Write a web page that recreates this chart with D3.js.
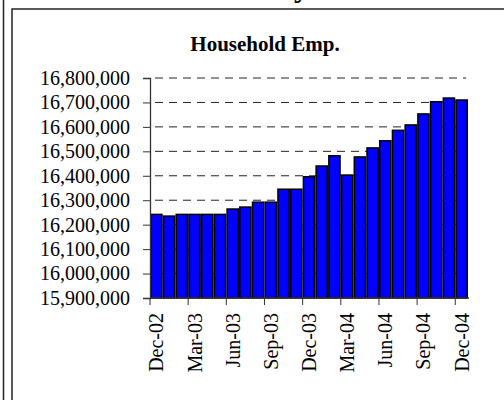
<!DOCTYPE html>
<html lang="en">
  <head>
    <style>
      body { margin: 0; background: #fff; }
      svg text { font-family: "Liberation Serif", "Times New Roman", serif; }
      .bar { fill: #0000ff; stroke: #000; stroke-width: 1.5; }
      .grid line { stroke: #222; stroke-dasharray: 8, 6; }
    </style>
    <script src="https://d3js.org/d3.v7.min.js"></script>
  </head>
  <body>
    <svg width="504" height="400"></svg>
    <script>
      const months = [
        "Dec-02", "Jan-03", "Feb-03", "Mar-03", "Apr-03", "May-03", "Jun-03",
        "Jul-03", "Aug-03", "Sep-03", "Oct-03", "Nov-03", "Dec-03",
        "Jan-04", "Feb-04", "Mar-04", "Apr-04", "May-04", "Jun-04",
        "Jul-04", "Aug-04", "Sep-04", "Oct-04", "Nov-04", "Dec-04"
      ];
      const employment = [
        16242000, 16235000, 16242000, 16242000, 16242000, 16242000, 16264000,
        16272000, 16292000, 16292000, 16345000, 16345000, 16396000,
        16440000, 16482000, 16403000, 16477000, 16514000, 16543000,
        16586000, 16608000, 16653000, 16703000, 16718000, 16710000
      ];
      const yTicks = [
        15900000, 16000000, 16100000, 16200000, 16300000,
        16400000, 16500000, 16600000, 16700000, 16800000
      ];
      const xLabels = ["Dec-02", "Mar-03", "Jun-03", "Sep-03", "Dec-03",
        "Mar-04", "Jun-04", "Sep-04", "Dec-04"];

      const svg = d3.select("svg");
      const plotLeft = 150, plotRight = 468, plotTop = 78, plotBottom = 298;

      // frame pieces
      svg.append("line").attr("x1", 3.5).attr("x2", 3.5).attr("y1", 0).attr("y2", 400)
        .attr("stroke", "#222").attr("stroke-width", 1.5);
      svg.append("line").attr("x1", 12).attr("x2", 12).attr("y1", 8.5).attr("y2", 400)
        .attr("stroke", "#222").attr("stroke-width", 1.5);
      svg.append("line").attr("x1", 12).attr("x2", 504).attr("y1", 9).attr("y2", 9)
        .attr("stroke", "#222").attr("stroke-width", 1.5);
      // page title above the frame, cut off at the top edge like the source
      svg.append("text").attr("x", 294).attr("y", -3)
        .attr("font-size", 30).attr("font-weight", "bold").text("y");

      svg.append("text")
        .attr("x", 265).attr("y", 51)
        .attr("text-anchor", "middle")
        .attr("font-size", 21).attr("font-weight", "bold")
        .text("Household Emp.");

      const x0 = d3.scaleBand().domain(months).range([plotLeft, plotRight]).padding(0);
      const x = d3.scaleBand().domain(months).range([plotLeft, plotRight])
        .paddingInner(0.12).paddingOuter(0.06);
      const y = d3.scaleLinear().domain([15900000, 16800000]).range([plotBottom, plotTop]);

      // gridlines
      svg.append("g").attr("class", "grid")
        .selectAll("line").data(yTicks.slice(1)).enter().append("line")
        .attr("x1", plotLeft + 5).attr("x2", plotRight - 2)
        .attr("y1", d => y(d)).attr("y2", d => y(d));

      svg.selectAll(".bar").data(employment).enter().append("rect")
        .attr("class", "bar")
        .attr("x", (d, i) => x(months[i]))
        .attr("width", x.bandwidth())
        .attr("y", d => y(d))
        .attr("height", d => plotBottom - y(d));

      const yAxis = svg.append("g")
        .attr("transform", "translate(" + plotLeft + ",0)")
        .call(d3.axisLeft(y).tickValues(yTicks).tickFormat(d3.format(","))
          .tickSize(7).tickPadding(13));
      yAxis.select(".domain").attr("stroke", "#333").attr("stroke-width", 1.3);
      yAxis.selectAll(".tick line").attr("stroke", "#333");
      yAxis.selectAll("text").attr("font-size", 20).attr("fill", "#000")
        .attr("font-family", "Liberation Serif, Times New Roman, serif");

      // x axis line and ticks every 3rd category boundary
      svg.append("line").attr("x1", plotLeft).attr("x2", plotRight + 1)
        .attr("y1", plotBottom).attr("y2", plotBottom)
        .attr("stroke", "#333").attr("stroke-width", 1.3);
      svg.append("g").selectAll("line").data(xLabels).enter().append("line")
        .attr("x1", d => x0(d)).attr("x2", d => x0(d))
        .attr("y1", plotBottom).attr("y2", plotBottom + 7)
        .attr("stroke", "#333");
      svg.append("g").selectAll("text").data(xLabels).enter().append("text")
        .attr("transform", d => "translate(" + (x0(d) + x0.bandwidth() / 2) + "," + 313 + ") rotate(-90)")
        .attr("text-anchor", "end")
        .attr("dy", "0.35em")
        .attr("font-size", 20)
        .text(d => d);
    </script>
  </body>
</html>
